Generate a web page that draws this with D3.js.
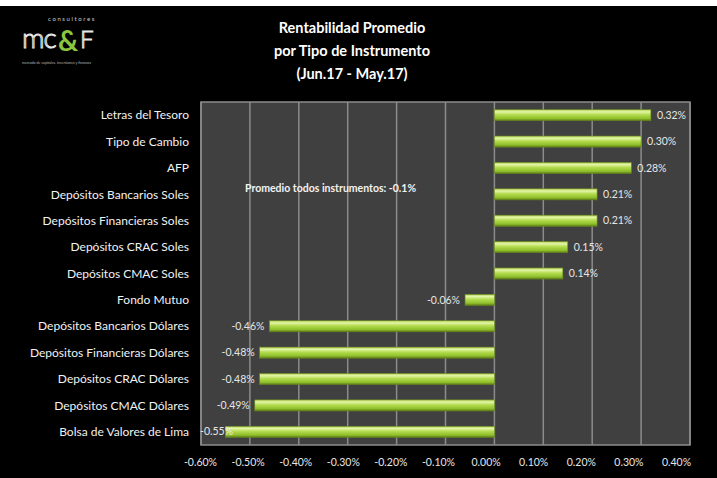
<!DOCTYPE html>
<html>
<head>
<meta charset="utf-8">
<script src="https://cdn.jsdelivr.net/npm/d3@7.9.0/dist/d3.min.js"></script>
<style>
  html, body { margin: 0; padding: 0; background: #fff; }
  svg { display: block; }
  text { font-family: Lato, "Open Sans", sans-serif; }
</style>
</head>
<body>
<div id="chart"></div>
<script>
const categories = [
  "Letras del Tesoro",
  "Tipo de Cambio",
  "AFP",
  "Depósitos Bancarios Soles",
  "Depósitos Financieras Soles",
  "Depósitos CRAC Soles",
  "Depósitos CMAC Soles",
  "Fondo Mutuo",
  "Depósitos Bancarios Dólares",
  "Depósitos Financieras Dólares",
  "Depósitos CRAC Dólares",
  "Depósitos CMAC Dólares",
  "Bolsa de Valores de Lima"
];
const values = [0.32, 0.30, 0.28, 0.21, 0.21, 0.15, 0.14, -0.06, -0.46, -0.48, -0.48, -0.49, -0.55];
const xTicks = [-0.6, -0.5, -0.4, -0.3, -0.2, -0.1, 0, 0.1, 0.2, 0.3, 0.4];
const titleLines = ["Rentabilidad Promedio", "por Tipo de Instrumento", "(Jun.17 - May.17)"];
const note = "Promedio todos instrumentos: -0.1%";

const width = 717, height = 478;
const plot = { left: 201, right: 690, top: 102, bottom: 445 };

const svg = d3.select("#chart").append("svg")
  .attr("width", width).attr("height", height);

// black background below the white strip
svg.append("rect").attr("x", 0).attr("y", 6).attr("width", width).attr("height", height - 6)
  .attr("fill", "#000");

const defs = svg.append("defs");
const grad = defs.append("linearGradient").attr("id", "barGrad")
  .attr("x1", 0).attr("y1", 0).attr("x2", 0).attr("y2", 1);
grad.append("stop").attr("offset", "0%").attr("stop-color", "#b5d45a");
grad.append("stop").attr("offset", "20%").attr("stop-color", "#e4f5a8");
grad.append("stop").attr("offset", "45%").attr("stop-color", "#b4dc50");
grad.append("stop").attr("offset", "80%").attr("stop-color", "#8fbf2a");
grad.append("stop").attr("offset", "100%").attr("stop-color", "#5c7a18");

const x = d3.scaleLinear().domain([-0.6, 0.4]).range([plot.left, plot.right]);
// front plane of the 3D floor, where Excel puts the tick labels
const xFront = d3.scaleLinear().domain([-0.6, 0.4]).range([200, 676]);
const y = d3.scaleBand().domain(categories).range([plot.top, plot.bottom]).paddingInner(0.58).paddingOuter(0.29);

// plot area
svg.append("rect")
  .attr("x", plot.left).attr("y", plot.top)
  .attr("width", plot.right - plot.left).attr("height", plot.bottom - plot.top)
  .attr("fill", "#404040").attr("stroke", "#8c8c8c").attr("stroke-width", 1.5);

// gridlines
svg.append("g").selectAll("line").data(xTicks).join("line")
  .attr("x1", d => x(d)).attr("x2", d => x(d))
  .attr("y1", plot.top).attr("y2", plot.bottom)
  .attr("stroke", "#8c8c8c").attr("stroke-width", 1.5);

// bars
const bars = svg.append("g");
bars.selectAll("rect").data(values).join("rect")
  .attr("x", d => Math.min(x(0), x(d)))
  .attr("y", (d, i) => y(categories[i]))
  .attr("width", d => Math.abs(x(d) - x(0)))
  .attr("height", y.bandwidth())
  .attr("fill", "url(#barGrad)")
  .attr("stroke", "#6b8a1e").attr("stroke-width", 0.6);

// value labels (Excel keeps them inside the plot area)
svg.append("g").selectAll("text").data(values).join("text")
  .attr("x", d => d >= 0 ? x(d) + 6 : x(d) - 5)
  .attr("y", (d, i) => y(categories[i]) + y.bandwidth() / 2)
  .attr("dy", "0.35em")
  .attr("text-anchor", d => d >= 0 ? "start" : "end")
  .attr("fill", "#e6e6e6").attr("font-size", 10.5)
  .text(d => d.toFixed(2) + "%")
  .each(function (d) {
    if (d >= 0) return;
    const len = this.getComputedTextLength();
    const right = +this.getAttribute("x");
    if (right - len < plot.left - 1) this.setAttribute("x", plot.left - 1 + len);
  });

// category labels
svg.append("g").selectAll("text").data(categories).join("text")
  .attr("x", 189)
  .attr("y", d => y(d) + y.bandwidth() / 2)
  .attr("dy", "0.35em")
  .attr("text-anchor", "end")
  .attr("fill", "#f2f2f2").attr("font-size", 12)
  .text(d => d);

// x axis labels
const xAxis = d3.axisBottom(xFront).tickValues(xTicks).tickSize(0)
  .tickFormat(d => d.toFixed(2) + "%");
const gx = svg.append("g").attr("transform", `translate(0,${plot.bottom + 11})`).call(xAxis);
gx.select(".domain").remove();
gx.selectAll("text").attr("fill", "#e6e6e6").attr("font-size", 10.5)
  .style("font-family", "Lato, sans-serif");

// title
svg.append("g").selectAll("text").data(titleLines).join("text")
  .attr("x", 352).attr("y", (d, i) => 33 + i * 23)
  .attr("text-anchor", "middle").attr("fill", "#fff")
  .attr("font-size", 14.5).attr("font-weight", "bold")
  .text(d => d);

// average note
svg.append("text").attr("x", 245).attr("y", 192)
  .attr("fill", "#f2f2f2").attr("font-size", 10.5).attr("font-weight", "bold")
  .text(note);

// logo
const logo = svg.append("g");
logo.append("text").attr("x", 48).attr("y", 21).attr("fill", "#ccc")
  .attr("font-size", 6).attr("letter-spacing", 1.6).text("consultores");
logo.append("text").attr("x", 22).attr("y", 48).attr("fill", "none")
  .attr("stroke", "#e8e8e8").attr("stroke-width", 1)
  .attr("font-size", 28).attr("font-weight", "300").attr("letter-spacing", -1).text("mc");
logo.append("text").attr("x", 58).attr("y", 51).attr("fill", "#8cc63f")
  .attr("font-size", 28).attr("font-weight", "bold").text("&");
logo.append("text").attr("x", 80).attr("y", 48).attr("fill", "none")
  .attr("stroke", "#e8e8e8").attr("stroke-width", 1)
  .attr("font-size", 24).attr("font-weight", "300").text("F");
logo.append("text").attr("x", 22).attr("y", 64).attr("fill", "#bbb")
  .attr("font-size", 3.6).text("mercado de capitales, inversiones y finanzas");
</script>
</body>
</html>
